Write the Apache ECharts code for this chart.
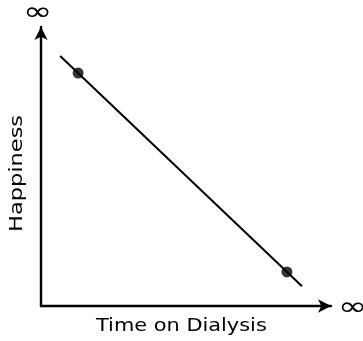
<!DOCTYPE html>
<html>
<head>
<meta charset="utf-8">
<style>
  html, body { margin: 0; padding: 0; background: #fff; }
  #chart { width: 363px; height: 341px; }
</style>
<script src="https://cdn.jsdelivr.net/npm/echarts@6/dist/echarts.min.js"></script>
</head>
<body>
<div id="chart"></div>
<script>
// Trend line end points (time, happiness) on a 0-100 scale
const lineTime = [6.6, 90.0];
const lineHappiness = [89.6, 7.1];
// Marked observations along the trend
const pointTime = [12.8, 84.8];
const pointHappiness = [83.5, 12.2];
// Axis titles and the end-of-axis labels
const xTitle = 'Time on Dialysis';
const yTitle = 'Happiness';
const axisEndLabel = '\u221E';

const chart = echarts.init(document.getElementById('chart'), null, { renderer: 'canvas' });

const ink = '#000';
const font = '"DejaVu Sans", sans-serif';

const axisCommon = {
  type: 'value',
  min: 0,
  max: 100,
  axisTick: { show: false },
  axisLabel: { show: false },
  splitLine: { show: false },
  axisLine: {
    show: true,
    symbol: ['none', 'arrow'],
    symbolSize: [10, 13],
    lineStyle: { color: ink, width: 2.4 }
  }
};

chart.setOption({
  animation: false,
  backgroundColor: '#fff',
  grid: { left: 41, right: 32, top: 27, bottom: 35, outerBoundsMode: 'none', containLabel: false },
  xAxis: Object.assign({}, axisCommon),
  yAxis: Object.assign({}, axisCommon),
  graphic: [
    {
      type: 'text',
      x: 96,
      y: 317,
      scaleX: 1.16,
      style: { text: xTitle, fill: ink, font: '18px ' + font }
    },
    {
      type: 'text',
      x: 8,
      y: 232,
      rotation: Math.PI / 2,
      scaleX: 1.25,
      style: { text: yTitle, fill: ink, font: '18px ' + font }
    },
    // infinity marks at the open ends of both axes
    {
      type: 'text',
      x: 23,
      y: 0,
      scaleX: 1.35,
      style: { text: axisEndLabel, fill: ink, font: '26px ' + font }
    },
    {
      type: 'text',
      x: 338,
      y: 295,
      scaleX: 1.35,
      style: { text: axisEndLabel, fill: ink, font: '26px ' + font }
    }
  ],
  series: [
    {
      type: 'line',
      data: lineTime.map((t, i) => [t, lineHappiness[i]]),
      symbol: 'none',
      lineStyle: { color: ink, width: 2 },
      z: 2
    },
    {
      type: 'scatter',
      data: pointTime.map((t, i) => [t, pointHappiness[i]]),
      symbol: 'circle',
      symbolSize: 11,
      itemStyle: { color: ink },
      z: 3
    }
  ]
});
</script>
</body>
</html>
